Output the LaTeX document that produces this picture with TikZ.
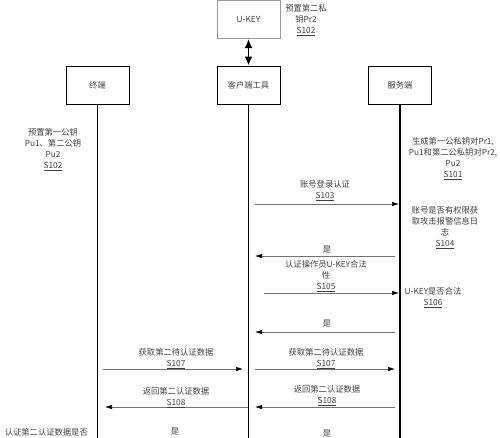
\documentclass[tikz,border=0pt]{standalone}
\usepackage{fontspec}
\setmainfont{Noto Sans CJK SC}
\usetikzlibrary{arrows.meta}
\begin{document}
\begin{tikzpicture}[x=1pt,y=-1pt,
  font=\fontsize{8.3}{11}\selectfont,
  actor/.style={draw=black,line width=1pt,minimum width=63pt,minimum height=38pt,inner sep=0pt,text=black!75},
  lifeline/.style={line width=1.3pt,black},
  msg/.style={draw=black!55,line width=0.6pt,-{Latex[length=7pt,width=4.5pt,color=black]}},
  lbl/.style={align=center,text=black!75,inner sep=0pt}]
\useasboundingbox (0,0) rectangle (500,437);
% actors
\node[actor,draw=black!40] (ukey) at (248.5,19.5) {U-KEY};
\node[actor] (term) at (97.5,85) {终端};
\node[actor] (client) at (248.5,85) {客户端工具};
\node[actor] (server) at (400,85) {服务端};
% lifelines
\coordinate (termEnd) at (97.5,440);
\coordinate (clientEnd) at (248.5,440);
\coordinate (serverEnd) at (400,440);
\draw[lifeline] (term.south) -- (termEnd);
\draw[lifeline] (client.south) -- (clientEnd);
\draw[lifeline] (server.south) -- (serverEnd);
% ukey <-> client
\draw[line width=1.8pt,{Latex[length=9pt,width=8pt]}-{Latex[length=9pt,width=8pt]}] (ukey.south) -- (client.north);
% side notes
\node[lbl] (nU) at (306,20) {预置第二私\\钥Pr2\\\underline{S102}};
\node[lbl] (nT) at (53,150) {预置第一公钥\\Pu1、第二公钥\\Pu2\\\underline{S102}};
\node[lbl] (nS) at (453,159) {生成第一公私钥对Pr1,\\Pu1和第二公私钥对Pr2,\\Pu2\\\underline{S101}};
\node[lbl] (n104) at (445,228) {账号是否有权限获\\取攻击报警信息日\\志\\\underline{S104}};
\node[lbl] (n106) at (433,298) {U-KEY是否合法\\\underline{S106}};
% message coordinates
\coordinate (m1a) at (255,204); \coordinate (m1b) at (399,204);
\coordinate (m2a) at (395,256); \coordinate (m2b) at (255,256);
\coordinate (m3a) at (264,293); \coordinate (m3b) at (399,293);
\coordinate (m4a) at (395,332); \coordinate (m4b) at (255,332);
\coordinate (m5a) at (255,369); \coordinate (m5b) at (395,369);
\coordinate (m6a) at (395,407); \coordinate (m6b) at (255,407);
\coordinate (t1a) at (103,369); \coordinate (t1b) at (243,369);
\coordinate (t2a) at (248,407); \coordinate (t2b) at (105,407);
\draw[msg] (m1a) -- (m1b);
\draw[msg] (m2a) -- (m2b);
\draw[msg] (m3a) -- (m3b);
\draw[msg] (m4a) -- (m4b);
\draw[msg] (m5a) -- (m5b);
\draw[msg] (m6a) -- (m6b);
\draw[msg] (t1a) -- (t1b);
\draw[msg] (t2a) -- (t2b);
% message labels
\node[lbl] (l1) at (325,190.5) {账号登录认证\\\underline{S103}};
\node[lbl] (l2) at (327,250) {是};
\node[lbl] (l3) at (326,276.5) {认证操作员U-KEY合法\\性\\\underline{S105}};
\node[lbl] (l4) at (327,324) {是};
\node[lbl] (l5) at (326,359) {获取第二待认证数据\\\underline{S107}};
\node[lbl] (l6) at (327,395.5) {返回第二认证数据\\\underline{S108}};
\node[lbl] (l7) at (327,434) {是};
\node[lbl] (k1) at (176,359) {获取第二待认证数据\\\underline{S107}};
\node[lbl] (k2) at (176,397.5) {返回第二认证数据\\\underline{S108}};
\node[lbl] (k3) at (175,432) {是};
\node[lbl,anchor=east] (k4) at (88,432) {认证第二认证数据是否};
\end{tikzpicture}
\end{document}
